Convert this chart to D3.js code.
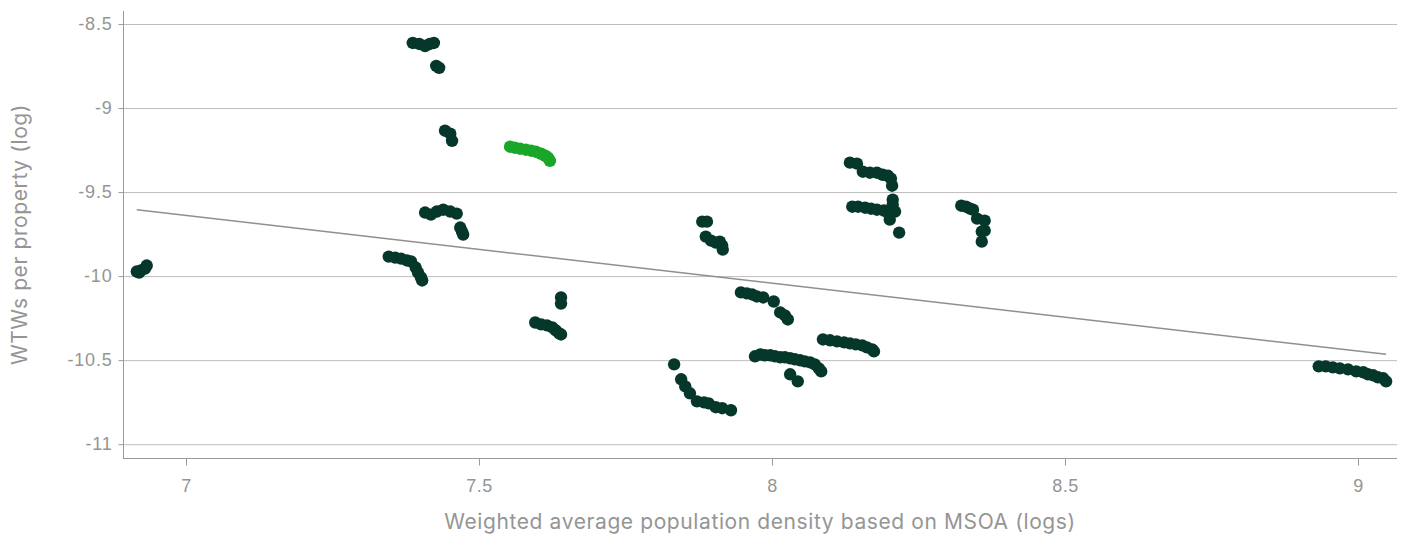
<!DOCTYPE html>
<html>
<head>
<meta charset="utf-8">
<script src="https://cdn.jsdelivr.net/npm/d3@7/dist/d3.min.js"></script>
<style>
  html, body { margin: 0; padding: 0; background: #ffffff; }
  svg { display: block; font-family: Inter, "Noto Sans", sans-serif; }
</style>
</head>
<body>
<svg id="chart" width="1405" height="536"></svg>
<script>
// Water treatment works: population density (log) vs WTWs per property (log)
const densityX = [
  6.916, 6.920, 6.923, 6.930, 6.933,
  7.387, 7.398, 7.408, 7.416, 7.423, 7.427, 7.432,
  7.442, 7.451, 7.454,
  7.408, 7.418, 7.428, 7.439, 7.451, 7.462, 7.468, 7.471, 7.473,
  7.346, 7.357, 7.367, 7.377, 7.384, 7.392, 7.396, 7.401, 7.403,
  7.596, 7.606, 7.616, 7.625, 7.631, 7.637, 7.640, 7.640, 7.640,
  7.881, 7.889, 7.887, 7.896, 7.904, 7.911, 7.915, 7.916,
  7.947, 7.957, 7.966, 7.974, 7.985, 8.003, 8.014, 8.022, 8.027,
  7.833, 7.845, 7.852, 7.860, 7.872, 7.884, 7.892, 7.904, 7.915, 7.930,
  7.971, 7.980, 7.988, 7.997, 8.005, 8.014, 8.022, 8.031, 8.039, 8.048, 8.056, 8.065, 8.073, 8.080, 8.084, 8.031, 8.044,
  8.087, 8.099, 8.111, 8.123, 8.133, 8.143, 8.154, 8.162, 8.171, 8.174,
  8.133, 8.145, 8.155, 8.167, 8.179, 8.189, 8.198, 8.203, 8.205,
  8.137, 8.147, 8.159, 8.169, 8.179, 8.191, 8.200, 8.206, 8.206, 8.210, 8.201, 8.217,
  8.323, 8.331, 8.338, 8.343, 8.350, 8.363, 8.363, 8.358, 8.358,
  8.933, 8.945, 8.957, 8.969, 8.983, 8.997, 9.009, 9.017, 9.026, 9.034, 9.043, 9.048
];
const wtwsY = [
  -9.973, -9.979, -9.967, -9.955, -9.937,
  -8.613, -8.619, -8.631, -8.619, -8.613, -8.749, -8.761,
  -9.135, -9.153, -9.195,
  -9.622, -9.634, -9.616, -9.605, -9.616, -9.628, -9.711, -9.735, -9.753,
  -9.884, -9.890, -9.896, -9.907, -9.913, -9.949, -9.979, -10.008, -10.026,
  -10.276, -10.287, -10.293, -10.305, -10.323, -10.341, -10.347, -10.127, -10.163,
  -9.676, -9.676, -9.765, -9.789, -9.801, -9.795, -9.818, -9.842,
  -10.097, -10.103, -10.109, -10.121, -10.127, -10.151, -10.216, -10.234, -10.258,
  -10.525, -10.614, -10.656, -10.697, -10.745, -10.751, -10.757, -10.780, -10.786, -10.798,
  -10.477, -10.466, -10.471, -10.471, -10.477, -10.483, -10.483, -10.489, -10.495, -10.501, -10.507, -10.513, -10.525, -10.549, -10.567, -10.584, -10.626,
  -10.377, -10.382, -10.388, -10.394, -10.400, -10.406, -10.412, -10.424, -10.436, -10.448,
  -9.325, -9.331, -9.379, -9.385, -9.385, -9.397, -9.403, -9.420, -9.462,
  -9.587, -9.587, -9.593, -9.599, -9.605, -9.610, -9.634, -9.545, -9.575, -9.616, -9.664, -9.741,
  -9.581, -9.587, -9.599, -9.605, -9.658, -9.670, -9.729, -9.735, -9.795,
  -10.537, -10.537, -10.543, -10.549, -10.555, -10.567, -10.572, -10.584, -10.590, -10.602, -10.608, -10.626
];
// Highlighted works
const highlightX = [7.553, 7.561, 7.570, 7.580, 7.589, 7.597, 7.606, 7.613, 7.618, 7.621];
const highlightY = [-9.230, -9.236, -9.242, -9.248, -9.254, -9.260, -9.272, -9.284, -9.296, -9.314];

// Linear fit across the data
const fitSlope = -0.4038;
const fitIntercept = -6.812;

const xTicks = [7, 7.5, 8, 8.5, 9];
const yTicks = [-8.5, -9, -9.5, -10, -10.5, -11];
const xTitle = "Weighted average population density based on MSOA (logs)";
const yTitle = "WTWs per property (log)";

const svg = d3.select("#chart");
const margin = { left: 123, right: 8, top: 11, bottom: 78 };
const W = 1405, H = 536;

const x = d3.scaleLinear().domain([6.8925, 9.0666]).range([margin.left, W - margin.right]);
const y = d3.scaleLinear().domain([-8.4228, -11.0821]).range([margin.top, H - margin.bottom]);

const textColor = "#959595";
const axisColor = "#9a9a9a";
const gridColor = "#bdbdbd";
const tickFmt = d => String(d).replace("\u2212", "-");

// gridlines
svg.append("g")
  .selectAll("line")
  .data(yTicks)
  .join("line")
  .attr("x1", margin.left).attr("x2", W - margin.right)
  .attr("y1", d => y(d) + 0.5).attr("y2", d => y(d) + 0.5)
  .attr("stroke", gridColor).attr("stroke-width", 1);

// y axis
const yAxis = svg.append("g")
  .attr("transform", `translate(${margin.left + 0.5},0)`)
  .call(d3.axisLeft(y).tickValues(yTicks).tickSize(5).tickPadding(6).tickFormat(tickFmt));
yAxis.select(".domain").attr("stroke", axisColor).attr("d", `M0,${margin.top}V${H - margin.bottom}`);
yAxis.selectAll(".tick line").attr("stroke", axisColor);
yAxis.selectAll(".tick text").attr("fill", textColor)
  .style("font-size", "18px").style("letter-spacing", "0.8px");

// x axis
const xAxis = svg.append("g")
  .attr("transform", `translate(0,${H - margin.bottom + 0.5})`)
  .call(d3.axisBottom(x).tickValues(xTicks).tickSize(7).tickPadding(14).tickFormat(tickFmt));
xAxis.select(".domain").attr("stroke", axisColor).attr("d", `M${margin.left},0H${W - margin.right}`);
xAxis.selectAll(".tick line").attr("stroke", axisColor);
xAxis.selectAll(".tick text").attr("fill", textColor)
  .style("font-size", "18px").style("letter-spacing", "0.5px");

// axis titles
svg.append("text")
  .attr("x", (margin.left + W - margin.right) / 2)
  .attr("y", 529)
  .attr("text-anchor", "middle")
  .attr("fill", textColor)
  .style("font-size", "21px").style("letter-spacing", "0.6px")
  .text(xTitle);

svg.append("text")
  .attr("transform", `translate(27,${(margin.top + H - margin.bottom) / 2}) rotate(-90)`)
  .attr("text-anchor", "middle")
  .attr("fill", textColor)
  .style("font-size", "21px").style("letter-spacing", "0.6px")
  .text(yTitle);

// trend line
const xMin = d3.min(densityX), xMax = d3.max(densityX);
svg.append("line")
  .attr("x1", x(xMin)).attr("y1", y(fitIntercept + fitSlope * xMin))
  .attr("x2", x(xMax)).attr("y2", y(fitIntercept + fitSlope * xMax))
  .attr("stroke", "#8f8f8f").attr("stroke-width", 1.5);

// points
const pts = densityX.map((d, i) => ({ x: d, y: wtwsY[i] }));
svg.append("g")
  .selectAll("circle")
  .data(pts)
  .join("circle")
  .attr("cx", d => x(d.x)).attr("cy", d => y(d.y)).attr("r", 6.2)
  .attr("fill", "#06372b");

const hl = highlightX.map((d, i) => ({ x: d, y: highlightY[i] }));
svg.append("g")
  .selectAll("circle")
  .data(hl)
  .join("circle")
  .attr("cx", d => x(d.x)).attr("cy", d => y(d.y)).attr("r", 6.2)
  .attr("fill", "#19a629");
</script>
</body>
</html>
